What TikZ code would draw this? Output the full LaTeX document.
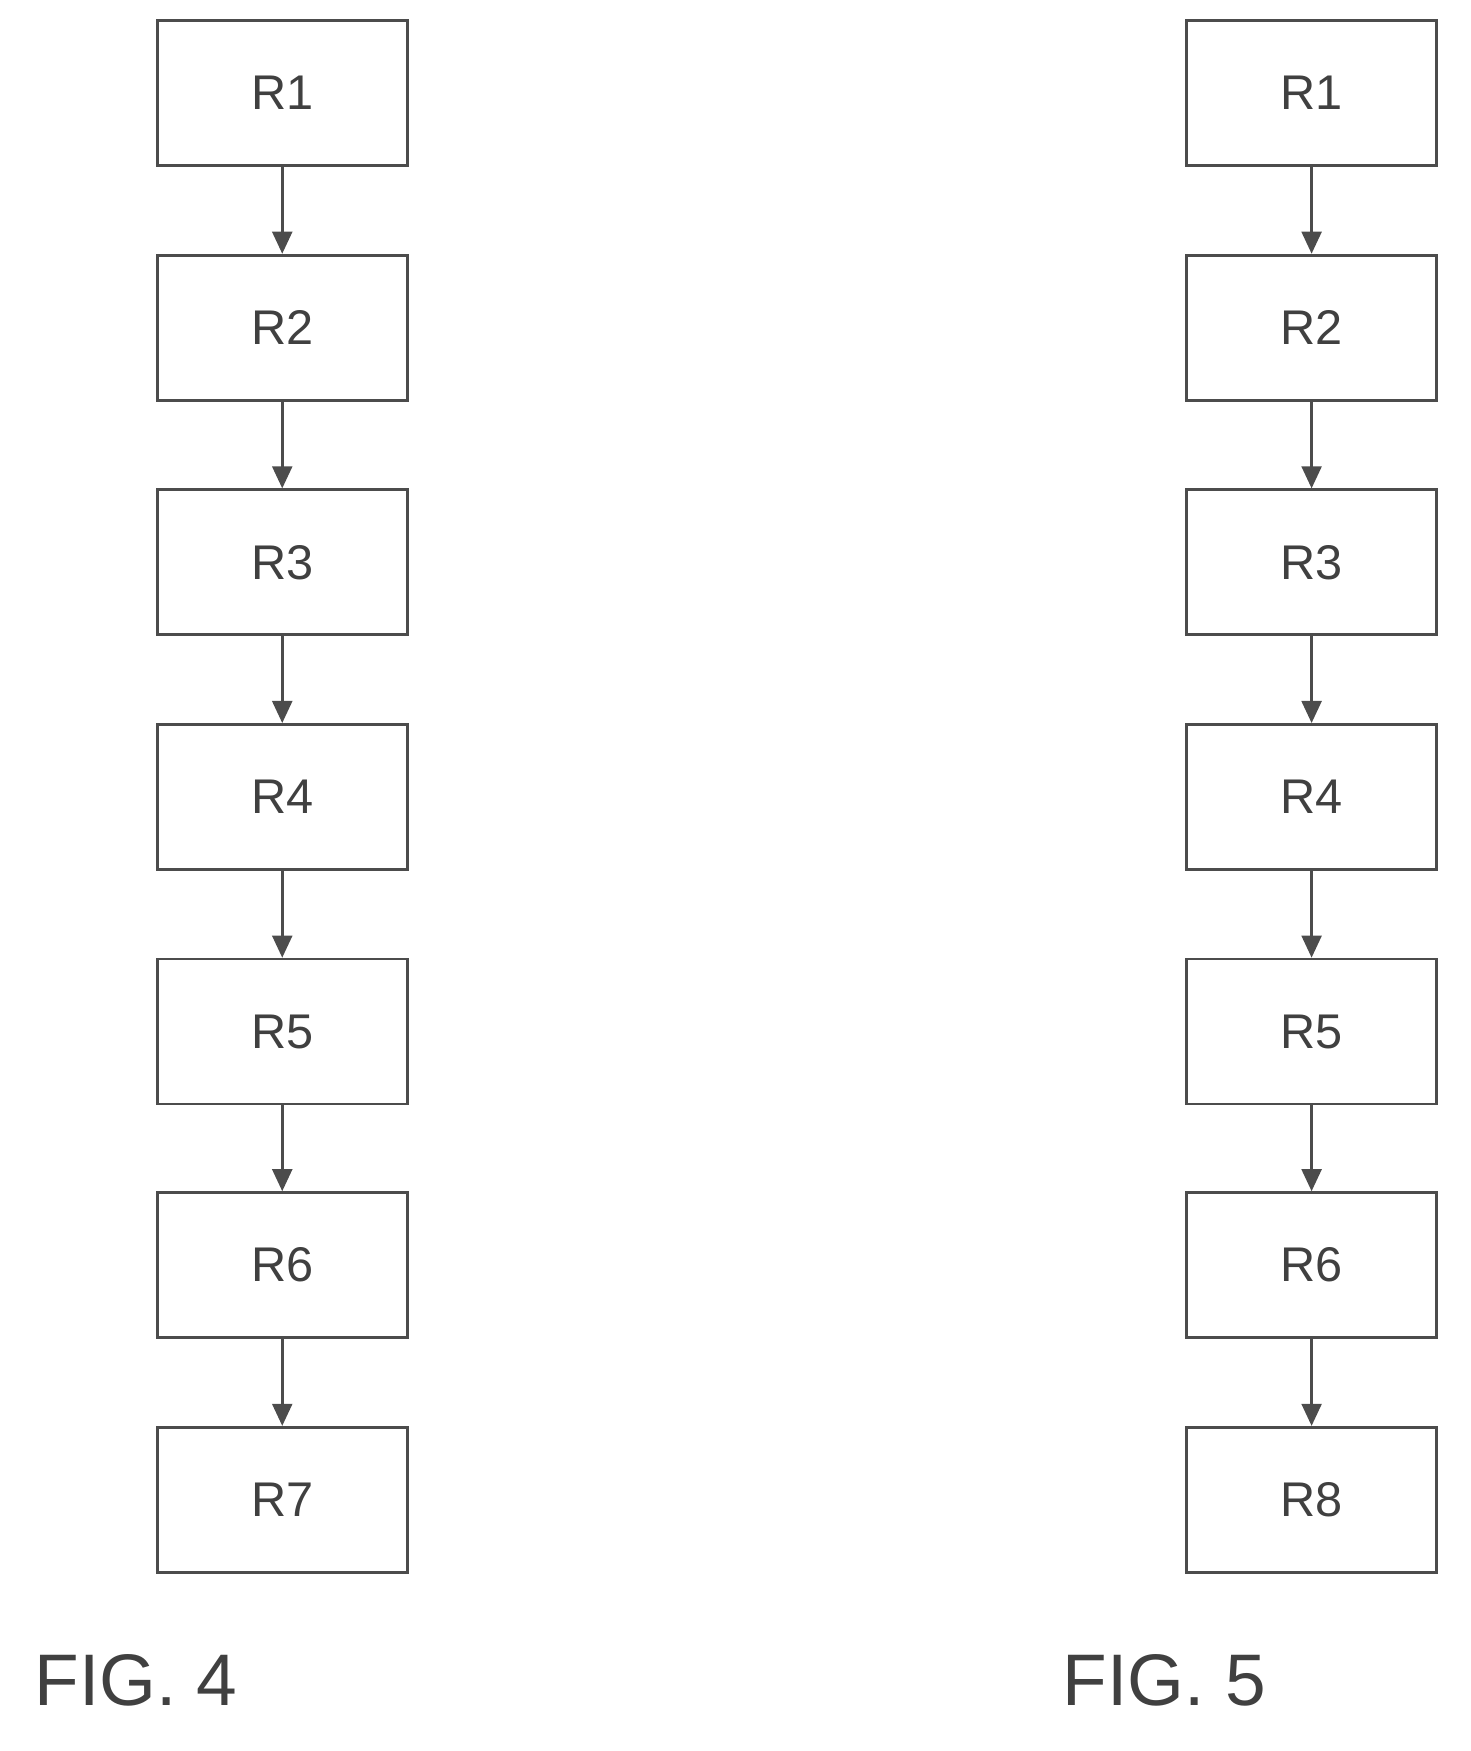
\documentclass[tikz,border=0pt]{standalone}
\usepackage{fontspec}
\setmainfont{Liberation Sans}
\usetikzlibrary{arrows.meta}
\begin{document}
\begin{tikzpicture}[x=1pt,y=-1pt,
  box/.style={draw=black!70,line width=2.5pt,minimum width=226pt,minimum height=131pt,inner sep=0pt,font=\fontsize{44}{48}\selectfont,text=black!75},
  arr/.style={draw=black!70,line width=2.5pt,-{Triangle[length=20pt,width=18pt]}},
  fig/.style={font=\fontsize{66}{70}\selectfont,text=black!75}]
\useasboundingbox (0,0) rectangle (1329,1582);
\foreach \i/\y in {1/84,2/296,3/508,4/720,5/932,6/1143,7/1355}{
  \node[box] (a\i) at (255,\y) {R\i};
}
\foreach \i/\t/\y in {1/1/84,2/2/296,3/3/508,4/4/720,5/5/932,6/6/1143,7/8/1355}{
  \node[box] (b\i) at (1185,\y) {R\t};
}
\foreach \i [evaluate=\i as \j using int(\i+1)] in {1,...,6}{
  \draw[arr] (a\i) -- (a\j);
  \draw[arr] (b\i) -- (b\j);
}
\node[fig] (f4) at (123,1518) {FIG. 4};
\node[fig] (f5) at (1052,1518) {FIG. 5};
\end{tikzpicture}
\end{document}
